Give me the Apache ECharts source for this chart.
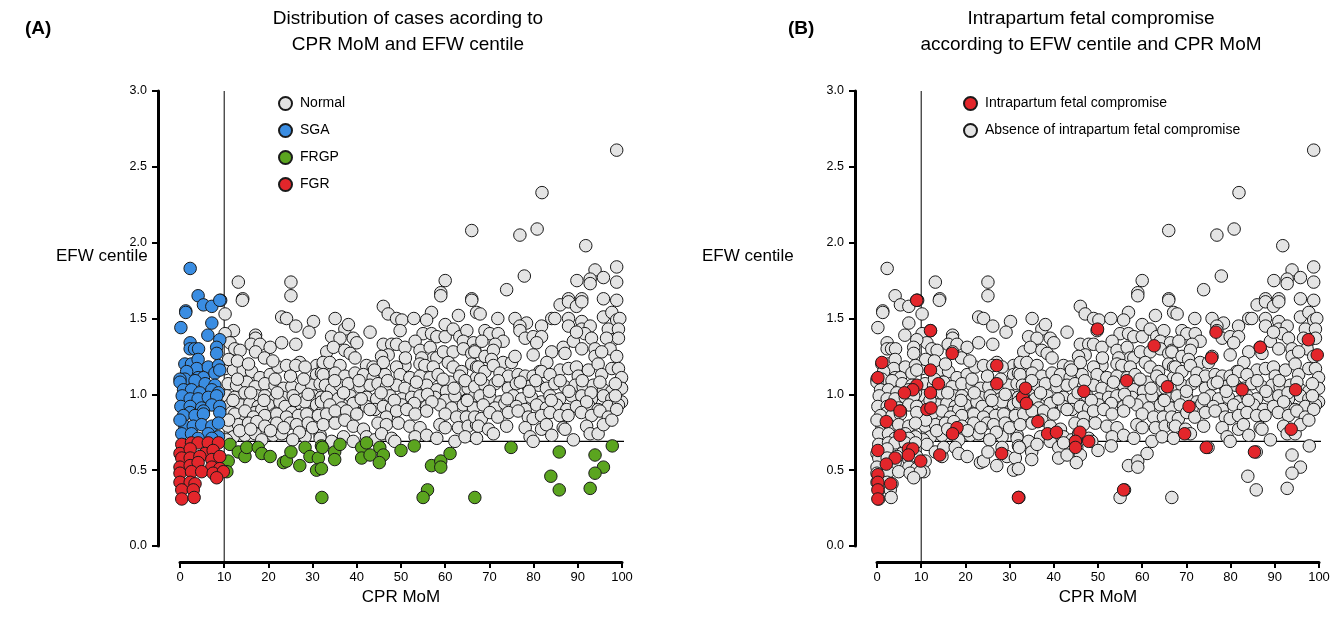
<!DOCTYPE html>
<html><head><meta charset="utf-8">
<script src="https://cdn.jsdelivr.net/npm/echarts@6/dist/echarts.min.js"></script>
<style>html,body{margin:0;padding:0;background:#fff}#c{width:1341px;height:633px}</style>
</head><body><div id="c"></div><script>
// ---- data (x = CPR MoM axis, y = EFW centile axis) ----
const normalPts = [
[13.2,1.74],[14.2,1.63],[25.1,1.74],[25.1,1.65],[66.0,2.08],[60.0,1.75],[59.0,1.67],[66.0,1.63],[98.8,2.61],[81.9,2.33],[76.9,2.05],[80.8,2.09],[91.8,1.98],[98.8,1.84],[93.9,1.82],[89.8,1.75],[92.8,1.76],[92.8,1.73],[95.8,1.77],[98.8,1.74],[77.9,1.78],[73.9,1.69],[87.9,1.63],[90.9,1.63],[95.8,1.63],[98.8,1.62],
[14.1,1.62],[10.2,1.53],[23,1.51],[24.1,1.50],[26.2,1.45],[30.2,1.48],[29.2,1.41],[12.1,1.42],[10.2,1.40],[17.1,1.39],[17.1,1.37],[11.3,1.34],[12.4,1.30],[13.6,1.29],[16.1,1.33],[18.1,1.33],[20.4,1.31],[23,1.34],[26.2,1.33],[17.1,1.28],[19.1,1.24],[27.1,1.21],[30.9,1.19],[32.4,1.19],
[10.2,1.17],[12.1,1.16],[14.3,1.16],[16.2,1.15],[18.1,1.11],[20.4,1.13],[22.2,1.18],[24.1,1.19],[26.2,1.19],[28.3,1.18],[30.9,1.13],[32,1.14],
[10.9,1.07],[12.8,1.06],[15.1,1.08],[17,1.05],[19.2,1.07],[21.5,1.06],[23.4,1.04],[25.3,1.05],[27.5,1.04],[29.8,1.06],[31.7,1.07],
[10.6,0.99],[12.4,0.98],[14.7,1.01],[17.4,0.99],[19.2,0.99],[21.5,0.97],[23.4,0.98],[25.6,0.99],[27.9,0.97],[30.2,0.99],[32,0.98],
[11.3,0.93],[13.6,0.93],[15.8,0.94],[17.7,0.92],[20,0.93],[22.6,0.95],[23.8,0.92],[26.4,0.94],[28.3,0.95],[30.9,0.93],
[11.7,0.88],[14.3,0.87],[17,0.88],[18.5,0.90],[21.5,0.87],[25.3,0.88],[29,0.87],[32,0.88],
[11,1.23],[13,1.22],[15.5,1.20],[21,1.22],[13,1.10],[21.5,1.10],[25,1.12],[28,1.10],[16,1.01],[22,1.01],[29,1.0],[12,0.96],[19,0.96],[26,0.96],[32,0.95],
[12.4,0.87],[14.7,0.89],[16.6,0.85],[19.2,0.86],[21.9,0.87],[24.1,0.85],[26.8,0.86],[28.7,0.87],[31.3,0.86],
[10.9,0.79],[13.2,0.80],[15.5,0.81],[17.4,0.82],[19.2,0.79],[21.9,0.81],[24.9,0.81],[26.4,0.80],[29,0.81],
[12.1,0.72],[14.7,0.73],[17,0.74],[18.5,0.70],[21.1,0.73],[23,0.74],[28.3,0.72],[31.7,0.73],
[11,0.83],[13.5,0.76],[16,0.77],[20.5,0.76],[23.5,0.78],[27,0.75],[30,0.78],[10.5,0.70],[25.5,0.70],
[59,1.65],[66,1.62],[46,1.58],[47.1,1.53],[35.1,1.50],[49,1.50],[50.2,1.49],[49.8,1.42],[52.9,1.50],[56.9,1.54],[55.8,1.49],[63,1.52],[67.1,1.54],[37.3,1.43],[38.1,1.46],[34.3,1.38],[36.2,1.37],[39.2,1.37],[40,1.34],[43,1.41],[55,1.40],[56.9,1.40],[58.1,1.38],[60,1.38],[60,1.46],[61.8,1.43],[63.3,1.38],[64.9,1.42],[64.1,1.35],[66.4,1.34],[66.7,1.29],
[46,1.33],[47.9,1.33],[49,1.33],[50.9,1.31],[53.2,1.35],[54.3,1.29],[56.6,1.31],[57.3,1.24],[54.7,1.24],[54.3,1.20],[58.1,1.24],
[33.2,1.28],[34.7,1.31],[37.3,1.29],[38.5,1.27],[47.1,1.26],[45.6,1.25],[50.9,1.19],[59.6,1.28],[61.8,1.28],[64.1,1.30],[66,1.27],
[32.4,1.21],[33.9,1.21],[36.2,1.19],[39.6,1.24],[42.2,1.19],[43.7,1.18],[46,1.21],[49,1.18],[55.4,1.19],[57.3,1.18],[60.7,1.21],[61.8,1.18],[63.7,1.15],[66,1.20],[67.1,1.18],
[32.4,1.13],[35.1,1.14],[37.3,1.12],[39.6,1.14],[41.5,1.13],[43.7,1.11],[46.4,1.13],[49.8,1.13],[52,1.11],[54.3,1.12],[56.6,1.11],[58.4,1.13],[61.1,1.08],[63.3,1.12],[66,1.06],[67.1,1.11],
[32.9,1.06],[34.3,1.03],[36.2,1.06],[38.1,1.07],[40.7,1.05],[43,1.06],[44.8,1.07],[46.7,1.05],[49,1.06],[50.9,1.04],[53.2,1.03],[55.8,1.06],[58.1,1.03],[60.3,1.02],[63.3,1.03],[65.2,1.04],
[33.2,0.98],[35.8,0.97],[38.5,0.99],[40,0.95],[42.2,0.98],[44.5,0.97],[47.5,0.99],[50.2,0.97],[52.4,0.98],[54.3,0.99],[57.7,0.98],[60,0.96],[62.2,0.99],[64.8,0.96],[66.7,0.99],
[33.9,0.93],[36.6,0.91],[39.2,0.94],[42.2,0.92],[44.1,0.90],[46,0.92],[47.9,0.91],[50.2,0.93],[52,0.91],[55.8,0.92],[58.8,0.93],[61.5,0.91],[64.1,0.93],[66.4,0.91],
[44,1.16],[51,1.24],[40.5,1.09],[47,1.09],[53.5,1.08],[59.5,1.10],[64.5,1.09],[35,1.09],[37,1.01],[45.5,1.01],[56,1.0],[62,1.04],[41,0.97],[48.5,0.96],[53,0.94],[57,0.95],[65,0.96],
[33.2,0.87],[35.1,0.89],[37.7,0.89],[40,0.87],[43,0.90],[46.7,0.85],[49,0.89],[51.3,0.90],[53.2,0.87],[55.8,0.89],[60,0.87],[62.6,0.85],[64.8,0.85],[67.1,0.83],
[32.4,0.80],[35.1,0.81],[37.3,0.83],[39.2,0.79],[41.5,0.77],[44.8,0.81],[46.7,0.80],[49.4,0.81],[52,0.79],[54.3,0.78],[58.8,0.80],[60,0.78],[63,0.78],[65.2,0.79],[67.1,0.80],
[31.7,0.71],[34.3,0.69],[37,0.72],[39.2,0.69],[42.2,0.72],[44.1,0.70],[45.6,0.74],[47.9,0.71],[48.6,0.69],[53.2,0.72],[55.8,0.73],[58.1,0.71],[62.2,0.69],[64.5,0.72],[67.1,0.71],
[86,1.59],[87.9,1.61],[89.7,1.58],[90.9,1.61],[67.9,1.53],[71.9,1.50],[75.8,1.50],[78.4,1.47],[76.9,1.45],[76.9,1.42],[81.8,1.45],[84.1,1.50],[84.8,1.50],[87.9,1.50],[87.9,1.45],[90.9,1.48],[90.9,1.43],[92.8,1.45],[91.6,1.40],[95.8,1.51],[97.7,1.54],[98.8,1.49],[99.5,1.50],[96.9,1.43],[99.2,1.43],[98,1.36],[99.2,1.37],
[69,1.42],[70.1,1.40],[72,1.40],[73.1,1.35],[71.3,1.33],[68.3,1.35],[78.1,1.37],[79.9,1.38],[81.8,1.38],[80.7,1.34],
[86.7,1.31],[89,1.35],[89.7,1.41],[90.9,1.30],[87.1,1.27],[93.1,1.37],[93.9,1.30],[96.5,1.37],[97.3,1.30],[98.8,1.25],[93.9,1.25],[95.4,1.28],
[66.7,1.28],[69,1.25],[70.9,1.29],[70.5,1.23],[73.1,1.21],[75,1.21],[75.8,1.25],[79.9,1.26],[84.1,1.28],[83,1.21],[81.4,1.15],[84.8,1.11],
[86,1.16],[87.9,1.17],[89.7,1.18],[90.1,1.12],[92.4,1.16],[94.6,1.20],[95.4,1.13],[97.7,1.17],[99.2,1.17],[99.9,1.11],
[67.5,1.18],[69,1.15],[70.9,1.19],[72.4,1.14],[74.3,1.12],[76.5,1.13],[78.1,1.12],[79.9,1.12],[81.8,1.15],[83.7,1.13],
[66.7,1.05],[69,1.06],[71.3,1.07],[74.3,1.04],[76.1,1.07],[78.8,1.05],[81.1,1.06],[82.9,1.04],[84.8,1.07],[87.1,1.05],[89.4,1.06],[91.2,1.05],[93.5,1.06],[95.8,1.03],[97.7,1.02],[99.9,1.04],
[67.9,0.99],[70.1,0.98],[72.4,0.95],[75.4,0.99],[77.3,0.97],[79.5,0.98],[81.8,0.95],[83.7,0.99],[85.9,0.97],[88.6,0.99],[90.9,0.99],[93.1,0.97],[95.8,0.99],[97.7,0.97],[99.9,0.95],
[68.6,0.93],[71.3,0.91],[73.5,0.94],[76.1,0.92],[78.1,0.90],[80.7,0.93],[82.9,0.91],[85.2,0.93],[87.5,0.90],[89.7,0.92],[92.4,0.93],[94.6,0.90],[96.9,0.92],[99.2,0.93],
[68,1.10],[72,1.09],[77,1.08],[80.5,1.09],[86,1.09],[91,1.09],[95,1.08],[98.5,1.07],[70,1.02],[79,1.02],[88,1.02],[93,1.01],[74,0.97],[84,0.96],[92,0.95],[98.5,0.99],
[66.7,0.85],[68.2,0.84],[70.1,0.88],[71.9,0.85],[74.3,0.88],[76.5,0.89],[78.8,0.85],[79.9,0.84],[81.8,0.86],[83.7,0.88],[85.9,0.86],[87.8,0.86],[90.8,0.88],[93.1,0.86],[95,0.89],[96.9,0.85],[98.8,0.90],
[67.5,0.79],[69.8,0.77],[70.9,0.74],[73.9,0.79],[78.1,0.78],[79.2,0.72],[79.9,0.69],[81.8,0.77],[82.9,0.80],[84.1,0.73],[86.7,0.78],[87.1,0.77],[89,0.70],[92,0.79],[92.8,0.74],[94.6,0.74],[95.8,0.80],[97.7,0.83]
];
const sgaPts = [
[2.3,1.83],[4.1,1.65],[9.2,1.62],[5.3,1.59],[7.2,1.58],[9.0,1.62],[1.3,1.55],[1.3,1.54],[0.2,1.44],[7.2,1.47],[6.3,1.39],[9.0,1.36],[2.3,1.34],
[2.3,1.30],[3.3,1.30],[4.2,1.30],[8.3,1.31],[8.3,1.27],[1.1,1.20],[2.6,1.20],[4.1,1.23],[3.8,1.17],[6.4,1.18],[8.7,1.19],[1.5,1.15],[4.1,1.11],[5.3,1.11],[1.1,1.10],[0,1.10],[7.9,1.14],[9.0,1.16],
[0,1.08],[3.4,1.09],[5.7,1.07],[7.9,1.06],[0.8,1.03],[2.6,1.03],[4.5,1.01],[7.2,1.03],[8.7,1.01],[0.5,0.99],[2.3,0.97],[4.1,0.97],[6.4,0.98],[8.3,0.99],
[0.2,0.92],[2.3,0.92],[4.9,0.91],[7.2,0.93],[9.0,0.92],[2.3,0.88],[5.3,0.89],[9.0,0.88],
[0.8,0.86],[3.4,0.86],[5.3,0.87],[1.1,0.79],[3.0,0.79],[4.9,0.80],[7.2,0.79],[0.4,0.74],[2.6,0.74],[6.4,0.74],[8.7,0.72],[4.1,0.71],[7.2,0.71],[0,0.83],[8.7,0.81]
];
const frgpPts = [
[11.3,0.67],[13.2,0.62],[14.7,0.59],[10.9,0.56],[10.6,0.49],[15.1,0.65],[17.7,0.65],[18.5,0.61],[20.4,0.59],[23.4,0.55],[24.1,0.56],[25.1,0.62],[27.1,0.53],[28.3,0.65],[29.4,0.59],[31.3,0.58],[32.0,0.66],[30.9,0.50],
[32.2,0.65],[35,0.62],[35,0.57],[32,0.51],[36.2,0.67],[41.1,0.65],[42.2,0.68],[41.1,0.58],[43,0.60],[45.2,0.65],[46,0.60],[45.1,0.55],[50,0.63],[53,0.66],[56.9,0.53],[59,0.56],[59,0.52],[56,0.37],[55,0.32],[61.1,0.61],[66.7,0.32],[32.1,0.32],
[74.9,0.65],[85.8,0.62],[93.9,0.60],[97.8,0.66],[95.8,0.52],[93.9,0.48],[83.9,0.46],[85.8,0.37],[92.8,0.38]
];
const fgrPts = [
[0.4,0.67],[2.6,0.68],[4.1,0.68],[6.4,0.68],[8.7,0.68],[0,0.61],[2.3,0.64],[5.7,0.61],[7.5,0.63],[0.4,0.58],[2.3,0.58],[4.5,0.59],[7.2,0.57],[9.0,0.59],
[0,0.52],[2.3,0.53],[4.1,0.55],[7.2,0.52],[9.0,0.51],[0,0.48],[2.6,0.49],[4.9,0.49],[7.5,0.48],[9.8,0.49],[8.3,0.45],[0,0.42],[2.3,0.42],[3.4,0.41],[0.4,0.37],[3.0,0.37],[0.4,0.31],[3.2,0.32]
];
const compromisePts = [
[9.0,1.62],[12.1,1.42],[17.0,1.27],[1.1,1.21],[0.2,1.11],[12.1,1.16],[27.1,1.19],[27.1,1.07],[13.9,1.07],[9.0,1.06],[8.1,1.03],[6.2,1.01],[12.1,1.01],[32.9,0.98],[3.1,0.93],[5.2,0.89],[11.3,0.90],[12.2,0.91],[2.1,0.82],[18.1,0.78],[17.1,0.74],[5.2,0.73],
[0.2,0.63],[7.1,0.64],[8.1,0.64],[7.1,0.60],[4.1,0.58],[14.2,0.60],[9.9,0.56],[2.1,0.54],[28.2,0.61],[0.2,0.47],[0.2,0.42],[0.2,0.37],[0.2,0.31],[3.1,0.41],[32,0.32],
[49.9,1.43],[62.7,1.32],[33.6,1.04],[33.8,0.94],[46.8,1.02],[56.5,1.09],[65.7,1.05],[36.4,0.82],[38.6,0.74],[40.6,0.75],[45.9,0.75],[44.9,0.69],[44.9,0.65],[47.9,0.69],[55.8,0.37],
[76.7,1.41],[97.6,1.36],[99.6,1.26],[86.7,1.31],[75.7,1.24],[82.6,1.03],[94.7,1.03],[70.6,0.92],[93.7,0.77],[69.6,0.74],[74.5,0.65],[85.4,0.62]
];
const cprCut = 10;      // vertical reference (CPR MoM)
const efwCut = 0.69;    // horizontal reference (EFW centile)
const xTickLabels = ['0','10','20','30','40','50','60','70','80','90','100'];
const yTickLabels = ['0.0','0.5','1.0','1.5','2.0','2.5','3.0'];
const legendA = ['Normal','SGA','FRGP','FGR'];
const legendB = ['Intrapartum fetal compromise','Absence of intrapartum fetal compromise'];

// ---- chart ----
const FF = '"Liberation Sans", Arial, Helvetica, sans-serif';
const C = { gray:'#e4e4e4', blue:'#3a8de2', green:'#5ba51f', red:'#e3262b' };
const chart = echarts.init(document.getElementById('c'), null, {renderer:'canvas'});

function xAx(gi){ return {
  gridIndex:gi, type:'value', min:0, max:100, interval:10, offset:16,
  axisLine:{show:true, onZero:false, lineStyle:{color:'#000', width:3}},
  axisTick:{show:true, length:6, lineStyle:{color:'#000', width:2}},
  axisLabel:{color:'#000', fontSize:13, margin:9, fontFamily:FF, formatter:(v)=>xTickLabels[Math.round(v/10)]},
  splitLine:{show:false},
  name:'CPR MoM', nameLocation:'middle', nameGap:18,
  nameTextStyle:{color:'#000', fontSize:17, fontFamily:FF}
};}
function yAx(gi){ return {
  gridIndex:gi, type:'value', min:0, max:3, interval:0.5, offset:22,
  axisLine:{show:true, onZero:false, lineStyle:{color:'#000', width:3}},
  axisTick:{show:true, length:6, lineStyle:{color:'#000', width:2}},
  axisLabel:{color:'#000', fontSize:12.5, margin:11, fontFamily:FF, formatter:(v)=>yTickLabels[Math.round(v*2)]},
  splitLine:{show:false}
};}
function sc(name, data, color, gi, z){ return {
  type:'scatter', name, data, xAxisIndex:gi, yAxisIndex:gi, symbol:'circle', symbolSize:12.5,
  clip:false, z, itemStyle:{color, borderColor:'#1a1a1a', borderWidth:1, opacity:1},
  emphasis:{disabled:true}, animation:false
};}
function refLines(gi){ return [
  {type:'line', data:[[cprCut,-0.105],[cprCut,3.0]], xAxisIndex:gi, yAxisIndex:gi, symbol:'none', clip:false, silent:true, z:1, animation:false, lineStyle:{color:'#000', width:1}},
  {type:'line', data:[[-4.5,efwCut],[101.4,efwCut]], xAxisIndex:gi, yAxisIndex:gi, symbol:'none', clip:false, silent:true, z:1, animation:false, lineStyle:{color:'#000', width:1.2}}
];}

const allPts = normalPts.concat(sgaPts, frgpPts, fgrPts);
const titleStyle = {color:'#000', fontSize:19, fontWeight:'normal', fontFamily:FF, lineHeight:26};
const yNameStyle = {color:'#000', fontSize:17, fontWeight:'normal', fontFamily:FF};
chart.setOption({
  backgroundColor:'#fff',
  animation:false,
  textStyle:{fontFamily:FF},
  title:[
    {text:'(A)', left:20, top:14, textStyle:{color:'#000', fontSize:19, fontWeight:'bold', fontFamily:FF}},
    {text:'Distribution of cases acording to\nCPR MoM and EFW centile', left:403, top:1, textAlign:'center', textStyle:titleStyle},
    {text:'(B)', left:783, top:14, textStyle:{color:'#000', fontSize:19, fontWeight:'bold', fontFamily:FF}},
    {text:'Intrapartum fetal compromise\naccording to EFW centile and CPR MoM', left:1086, top:1, textAlign:'center', textStyle:titleStyle},
    {text:'EFW centile', left:51, top:243, textStyle:yNameStyle},
    {text:'EFW centile', left:697, top:243, textStyle:yNameStyle}
  ],
  legend:[
    {data:legendA, orient:'vertical', left:273, top:91, itemWidth:13, itemHeight:13, itemGap:12, icon:'circle', selectedMode:false,
     textStyle:{color:'#000', fontSize:14, fontFamily:FF, padding:[0,0,0,3]}},
    {data:legendB, orient:'vertical', left:958, top:91, itemWidth:13, itemHeight:13, itemGap:12, icon:'circle', selectedMode:false,
     textStyle:{color:'#000', fontSize:14, fontFamily:FF, padding:[0,0,0,3]}}
  ],
  grid:[
    {left:180, top:91, width:442, height:455},
    {left:877, top:91, width:442, height:455}
  ],
  xAxis:[xAx(0), xAx(1)],
  yAxis:[yAx(0), yAx(1)],
  series:[
    ...refLines(0),
    sc('Normal', normalPts, C.gray, 0, 2),
    sc('SGA', sgaPts, C.blue, 0, 3),
    sc('FRGP', frgpPts, C.green, 0, 4),
    sc('FGR', fgrPts, C.red, 0, 5),
    ...refLines(1),
    sc('Absence of intrapartum fetal compromise', allPts, C.gray, 1, 2),
    sc('Intrapartum fetal compromise', compromisePts, C.red, 1, 3)
  ]
});
</script></body></html>
